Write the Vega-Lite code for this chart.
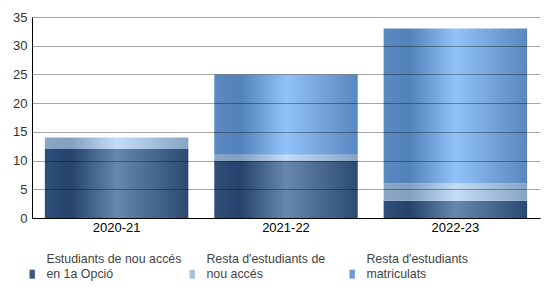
{
  "$schema": "https://vega.github.io/schema/vega-lite/v6.json",
  "autosize": "none",
  "width": 508,
  "height": 201,
  "padding": {"left": 32, "top": 17, "right": 10, "bottom": 87},
  "background": "white",
  "data": {"values": [
    {"curs": "2020-21", "serie": "Estudiants de nou accés en 1a Opció", "ord": 1, "valor": 12},
    {"curs": "2020-21", "serie": "Resta d'estudiants de nou accés", "ord": 2, "valor": 2},
    {"curs": "2020-21", "serie": "Resta d'estudiants matriculats", "ord": 3, "valor": 0},
    {"curs": "2021-22", "serie": "Estudiants de nou accés en 1a Opció", "ord": 1, "valor": 10},
    {"curs": "2021-22", "serie": "Resta d'estudiants de nou accés", "ord": 2, "valor": 1},
    {"curs": "2021-22", "serie": "Resta d'estudiants matriculats", "ord": 3, "valor": 14},
    {"curs": "2022-23", "serie": "Estudiants de nou accés en 1a Opció", "ord": 1, "valor": 3},
    {"curs": "2022-23", "serie": "Resta d'estudiants de nou accés", "ord": 2, "valor": 3},
    {"curs": "2022-23", "serie": "Resta d'estudiants matriculats", "ord": 3, "valor": 27}
  ]},
  "encoding": {
    "x": {
      "field": "curs", "type": "nominal",
      "scale": {"paddingInner": 0.153, "paddingOuter": 0.076},
      "axis": {"title": null, "labelAngle": 0, "labelFont": "Liberation Sans", "labelFontSize": 13, "labelColor": "#000", "ticks": false, "domainColor": "#000", "labelPadding": 3}
    },
    "y": {
      "field": "valor", "type": "quantitative", "stack": "zero",
      "scale": {"domain": [0, 35]},
      "axis": {"title": null, "values": [0,5,10,15,20,25,30,35], "labelFont": "Liberation Sans", "labelFontSize": 13, "labelColor": "#333", "ticks": false, "labelPadding": 5, "domainColor": "#000", "gridColor": "#000", "gridOpacity": 0.35, "zindex": 1}
    },
    "order": {"field": "ord", "type": "quantitative"}
  },
  "layer": [
    {
      "mark": {"type": "bar", "fill": {"expr": "datum.ord == 1 ? {gradient: 'linear', x1: 0, y1: 0, x2: 1, y2: 0, stops: [{offset: 0, color: '#2f4e79'}, {offset: 0.18, color: '#25436b'}, {offset: 0.5, color: '#6787ac'}, {offset: 1, color: '#2b4a73'}]} : datum.ord == 2 ? {gradient: 'linear', x1: 0, y1: 0, x2: 1, y2: 0, stops: [{offset: 0, color: '#8ba7c6'}, {offset: 0.18, color: '#84a0bf'}, {offset: 0.5, color: '#c3ddf8'}, {offset: 1, color: '#88a4c3'}]} : {gradient: 'linear', x1: 0, y1: 0, x2: 1, y2: 0, stops: [{offset: 0, color: '#5b89c1'}, {offset: 0.18, color: '#5282ba'}, {offset: 0.5, color: '#92c2fa'}, {offset: 1, color: '#5987bf'}]}"}},
      "encoding": {"detail": {"field": "serie"}}
    },
    {
      "mark": {"type": "point", "opacity": 0, "filled": true},
      "encoding": {
        "color": {
          "field": "serie", "type": "nominal",
          "scale": {
            "domain": ["Estudiants de nou accés en 1a Opció", "Resta d'estudiants de nou accés", "Resta d'estudiants matriculats"],
            "range": ["#3a5a84", "#a6c1de", "#6c9bd4"]
          },
          "legend": {
            "title": null, "orient": "none", "legendX": -6, "legendY": 251,
            "direction": "horizontal", "columns": 3, "columnPadding": 4, "gridAlign": "all",
            "symbolType": "M-0.6,-1H0.6V1H-0.6Z", "symbolSize": 81, "symbolStrokeWidth": 0, "symbolOpacity": 1,
            "labelFont": "Liberation Sans", "labelFontSize": 12.4, "labelColor": "#444", "labelLimit": 200, "labelOffset": 8,
            "labelExpr": "datum.label == 'Estudiants de nou accés en 1a Opció' ? ['Estudiants de nou accés', 'en 1a Opció'] : datum.label == \"Resta d'estudiants de nou accés\" ? [\"Resta d'estudiants de\", 'nou accés'] : [\"Resta d'estudiants\", 'matriculats']",
            "encode": {
              "labels": {"update": {"dy": {"value": -15}}}
            }
          }
        }
      }
    }
  ],
  "config": {"view": {"stroke": null}}
}
